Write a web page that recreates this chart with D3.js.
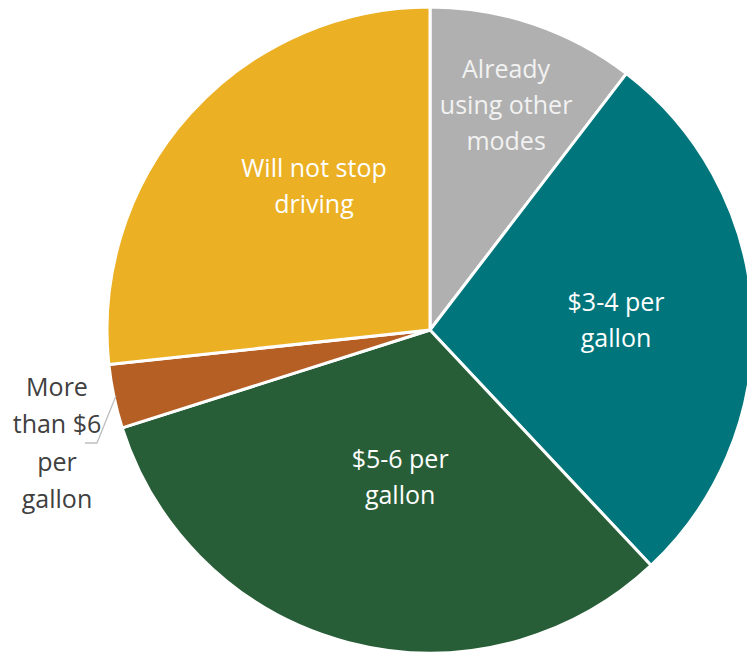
<!DOCTYPE html>
<html><head><meta charset="utf-8">
<script src="https://cdn.jsdelivr.net/npm/d3@7"></script>
<style>body{margin:0;background:#fff;overflow:hidden}</style>
</head><body>
<svg id="c" width="747" height="655"></svg>
<script>
const categories = ["Already using other modes", "$3-4 per gallon", "$5-6 per gallon", "More than $6 per gallon", "Will not stop driving"];
const values = [10.4, 27.6, 32.1, 3.2, 26.7];
const labelLines = [["Already","using other","modes"],["$3-4 per","gallon"],["$5-6 per","gallon"],["More","than $6","per","gallon"],["Will not stop","driving"]];
const colors = ["#B0B0B0", "#00767C", "#275E37", "#B55F24", "#EBB024"];

const W = 747, H = 655, cx = 430, cy = 330, R = 323;
const svg = d3.select("#c");
const g = svg.append("g").attr("transform", `translate(${cx},${cy})`);
const pie = d3.pie().sort(null).value(d => d);
const arcs = pie(values);
const arc = d3.arc().innerRadius(0).outerRadius(R);

g.selectAll("path").data(arcs).enter().append("path")
  .attr("d", arc).attr("fill", (d,i) => colors[i])
  .attr("stroke", "#fff").attr("stroke-width", 3).attr("stroke-linejoin","round");

// label placement: angle offset (deg) and radius fraction
const labelPlace = [{da:-0.1, rf:0.738},{da:-0.5, rf:0.577},{da:-3, rf:0.461},null,{da:9.4, rf:0.575}];
const fontSize = 25, lh = 36;
arcs.forEach((d,i) => {
  const p = labelPlace[i];
  if (!p) return;
  const a = (d.startAngle + d.endAngle)/2 + p.da*Math.PI/180;
  const r = R*p.rf;
  const x = r*Math.sin(a), y = -r*Math.cos(a);
  const lines = labelLines[i];
  const t = g.append("text").attr("x", x).attr("y", y - (lines.length-1)*lh/2)
    .attr("text-anchor","middle").attr("dominant-baseline","central")
    .attr("fill", i===0 ? "#F2F2F2" : "#fff").attr("font-family","'Open Sans', sans-serif").attr("font-size", fontSize);
  lines.forEach((l,k) => t.append("tspan").attr("x", x).attr("dy", k===0?0:lh).text(l));
});

// outside label for small slice with leader line
{
  const i = 3, d = arcs[i];
  const a = (d.startAngle + d.endAngle)/2;
  const x0 = (R-2)*Math.sin(a), y0 = -(R-2)*Math.cos(a);
  const x1 = 97 - cx, y1 = 443 - cy, x2 = 85 - cx;
  g.append("polyline").attr("points", `${x0},${y0} ${x1},${y1} ${x2},${y1}`)
    .attr("fill","none").attr("stroke","#BFBFBF").attr("stroke-width",1.3);
  const lines = labelLines[i];
  const tx = 57 - cx, ty = 386 - cy;
  const t = g.append("text").attr("x", tx).attr("y", ty)
    .attr("text-anchor","middle").attr("dominant-baseline","central")
    .attr("fill","#404040").attr("font-family","'Open Sans', sans-serif").attr("font-size", fontSize);
  lines.forEach((l,k) => t.append("tspan").attr("x", tx).attr("dy", k===0?0:37.3).text(l));
}
</script>
</body></html>
